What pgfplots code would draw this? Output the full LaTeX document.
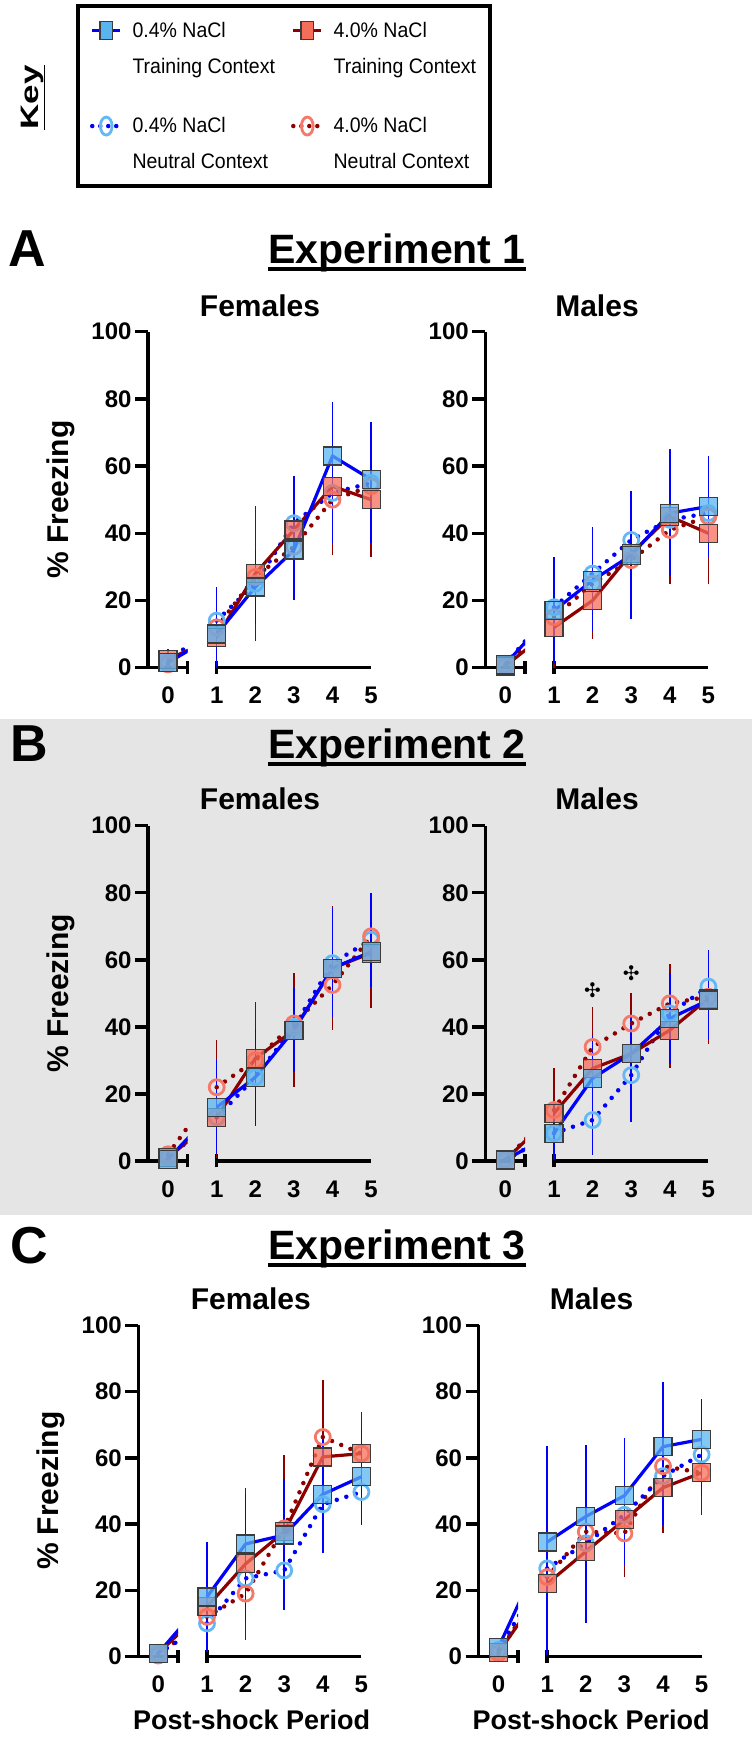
\documentclass[border=0pt]{standalone}
\usepackage{fontspec}
\setmainfont{Liberation Sans}
\newfontfamily\djv{DejaVu Sans}
\newfontfamily\legfont[FakeStretch=0.93]{Liberation Sans}
\usepackage{graphicx}
\usepackage{pgfplots}
\pgfplotsset{compat=1.18}
\usepackage{pgfplotstable}

\definecolor{lblue}{RGB}{90,180,240}
\definecolor{salm}{RGB}{245,110,90}
\definecolor{cblue}{RGB}{100,185,245}
\definecolor{csalm}{RGB}{245,120,105}
\definecolor{dred}{RGB}{140,0,0}
\definecolor{bblue}{RGB}{0,0,255}
\definecolor{mgray}{RGB}{60,60,60}
\definecolor{bggray}{RGB}{229,229,229}

% columns: period, blue square (0.4% training) +err, red square (4.0% training) +err,
% blue circle (0.4% neutral) +err, red circle (4.0% neutral) +err
\pgfplotstableread{
p bs bse rs rse bc bce rc rce
0 1.5 1.5 2.5 3 1.5 1 1 1
1 10 14 9 8 14 9 12 7
2 24 11 28 20 25 9 27 15
3 35 15 41 12 43 14 36 10
4 63 16 54 20.5 52 15 50 12
5 56 16 50 17 55 18 54 12
}\tAF
\pgfplotstableread{
p bs bse rs rse bc bce rc rce
0 1 1 0.5 0.5 1 1 0.5 0.5
1 17 16 12 12 18 10 15 9
2 26 15 20 11.6 28 14 25 10
3 33.5 19 34 14 38 12 32 12
4 46 18.8 45 20 44 14 41 13
5 48 15 40 15 46 12 45 12
}\tAM
\pgfplotstableread{
p bs bse rs rse bc bce rc rce
0 0.5 0.5 1 1 1 1 2 1.5
1 16 14 13 12 13 10 22 14
2 25 14.5 30.6 16.7 25 10 30 12
3 39 12.5 39 17 40 10 41 12
4 57.5 14 57.5 18.5 59 16.5 52.5 12
5 62.4 10 62 16.5 66 14 67 12
}\tBF
\pgfplotstableread{
p bs bse rs rse bc bce rc rce
0 0.3 0.3 0.3 0.3 0.3 0.3 0.3 0.3
1 8.3 8 14.2 13.4 8.3 6 15.2 9
2 24.7 13 27.6 14 12.2 10.4 34 12
3 32 11.5 32 12 25.6 13.9 41 9
4 42.5 13.5 39 11.4 44 10 47 11.7
5 48 12 48.5 13.5 52 11 49 10
}\tBM
\pgfplotstableread{
p bs bse rs rse bc bce rc rce
0 1 1 1 1 1 1 0.3 0.3
1 18 16.5 15 10 10 8 12 8
2 34 15 28 23 23.6 13 19 10
3 36.7 17 37.7 23.3 26 12 38.7 10
4 49 17.6 60.3 20 46 12 66.3 17.3
5 54.3 14.5 61.3 12.7 49.7 10 61.3 10
}\tCF
\pgfplotstableread{
p bs bse rs rse bc bce rc rce
0 2.8 2 1.3 1 2 1.5 1 1
1 34.6 29 22 19 26.6 26 24 15
2 42.3 21.5 31.7 21.7 34.2 24 37.7 15
3 48.6 17.4 41.3 17.3 42.8 15.2 37.2 12
4 63.4 19.6 51 13.8 54.5 14.7 57.5 12
5 65.6 12.1 55.5 12.7 61 12.6 55.5 10
}\tCM

\newcommand\tickfont{\bfseries\fontsize{24}{28}\selectfont}
\newcommand\titlefont{\bfseries\fontsize{30}{34}\selectfont}
\newcommand\expfont{\bfseries\fontsize{41}{46}\selectfont}
\newcommand\letfont{\bfseries\fontsize{52}{56}\selectfont}
\newcommand\xlabfont{\bfseries\fontsize{27}{30}\selectfont}

\pgfplotsset{
  common/.style={ymin=0, ymax=100, anchor=south west,
    axis line style={-, line width=3.5pt, black},
    tick style={line width=3.5pt, black},
    major tick length=13pt,
    tick label style={font=\tickfont},
    /pgf/number format/assume math mode=true,
    xticklabel style={yshift=-16pt}},
  lax/.style={common, x=48.7pt, xmin=-0.4107, xmax=0.4045,
    axis x line*=bottom, axis y line*=left,
    ytick={0,20,...,100}, ytick align=outside,
    xtick={0.4045}, xticklabels={}, xtick align=center,
    extra x ticks={0}, extra x tick labels={0},
    extra x tick style={major tick length=0pt}},
  rax/.style={common, x=38.6pt, xmin=1, xmax=5, clip=false,
    axis x line*=bottom, axis y line=none, ytick=\empty,
    xtick={1}, xticklabels={}, xtick align=center,
    extra x ticks={1,2,3,4,5}, extra x tick labels={1,2,3,4,5},
    extra x tick style={major tick length=0pt},
    restrict x to domain=0.5:5.5},
  bsq/.style={only marks, mark=square*, mark size=9pt,
    mark options={fill=lblue, fill opacity=0.75, draw=mgray, line width=1.2pt}},
  rsq/.style={only marks, mark=square*, mark size=9pt,
    mark options={fill=salm, fill opacity=0.75, draw=mgray, line width=1.2pt}},
  bci/.style={only marks, mark=o, mark size=7.5pt, mark options={draw=cblue, line width=2.8pt}},
  rci/.style={only marks, mark=o, mark size=7.5pt, mark options={draw=csalm, line width=2.8pt}},
  berr/.style={draw=none, mark=none, error bars/.cd, y dir=both, y explicit, error mark=none,
    error bar style={draw=bblue, line width=1.5pt, solid}},
  rerr/.style={draw=none, mark=none, error bars/.cd, y dir=both, y explicit, error mark=none,
    error bar style={draw=dred, line width=1.5pt, solid}},
  bsol/.style={bblue, line width=3.2pt, mark=none, line join=round},
  rsol/.style={dred, line width=3.2pt, mark=none, line join=round},
  bdot/.style={bblue, line width=4.5pt, mark=none, line cap=round, dash pattern=on 0pt off 10pt},
  rdot/.style={dred, line width=4.5pt, mark=none, line cap=round, dash pattern=on 0pt off 10pt},
}

\newcommand\errs[4]{\addplot[#1] table[x=p, y=#2, y error plus=#3,
  y error minus expr={min(\thisrow{#3},\thisrow{#2})}] {#4};}

\newcommand\panel[5]{%
\begin{axis}[lax, at={(#1pt,#2pt)}, y=#3pt]
  \addplot[bci, restrict x to domain=-0.5:0.5] table[x=p,y=bc] {#4};
  \addplot[rci, restrict x to domain=-0.5:0.5] table[x=p,y=rc] {#4};
  \addplot[rsq, restrict x to domain=-0.5:0.5] table[x=p,y=rs] {#4};
  \addplot[bsq, restrict x to domain=-0.5:0.5] table[x=p,y=bs] {#4};
  \errs{restrict x to domain=-0.5:0.5, rerr}{rs}{rse}{#4}
  \errs{restrict x to domain=-0.5:0.5, rerr}{rc}{rce}{#4}
  \errs{restrict x to domain=-0.5:0.5, berr}{bs}{bse}{#4}
  \errs{restrict x to domain=-0.5:0.5, berr}{bc}{bce}{#4}
  \addplot[rdot] table[x=p,y=rc] {#4};
  \addplot[bdot] table[x=p,y=bc] {#4};
  \addplot[rsol] table[x=p,y=rs] {#4};
  \addplot[bsol] table[x=p,y=bs] {#4};
\end{axis}
\begin{axis}[rax, at={(#1pt+68.7pt,#2pt)}, y=#3pt]
  \addplot[bci] table[x=p,y=bc] {#4};
  \addplot[rci] table[x=p,y=rc] {#4};
  \addplot[rsq] table[x=p,y=rs] {#4};
  \addplot[bsq] table[x=p,y=bs] {#4};
  \errs{rerr}{rs}{rse}{#4}
  \errs{rerr}{rc}{rce}{#4}
  \errs{berr}{bs}{bse}{#4}
  \errs{berr}{bc}{bce}{#4}
  \addplot[rdot] table[x=p,y=rc] {#4};
  \addplot[bdot] table[x=p,y=bc] {#4};
  \addplot[rsol] table[x=p,y=rs] {#4};
  \addplot[bsol] table[x=p,y=bs] {#4};
  #5
\end{axis}}

\begin{document}
\begin{tikzpicture}[x=1pt,y=1pt]
\fill[bggray] (0,525) rectangle (752,1020.5);

% ---------- Key ----------
\node[rotate=90, inner sep=0, font=\bfseries\fontsize{35}{35}\selectfont] at (33,1642.5)
  {\scalebox{1}[0.72]{\underline{Key}}};
\begin{axis}[hide axis, scale only axis, width=50pt, height=50pt,
  xmin=0, xmax=1, ymin=0, ymax=1,
  at={(76pt,1736pt)}, anchor=north west,
  legend columns=2, legend cell align=left,
  legend image code/.code={\draw[mark repeat=2,mark phase=2,#1]
     plot coordinates {(0pt,18pt) (14pt,18pt) (28pt,18pt)};},
  legend style={at={(0,1)}, anchor=north west, draw=black, line width=4pt, fill=white,
     font=\legfont\fontsize{21}{36}\selectfont, cells={align=left},
     inner xsep=12pt, inner ysep=14pt, row sep=39pt,
     /tikz/every odd column/.append style={column sep=8pt},
     /tikz/every even column/.append style={column sep=14pt}},
]
\addlegendimage{bblue, line width=3.5pt, mark=square*, mark size=9pt,
   mark options={solid, fill=lblue, draw=mgray, line width=1.2pt, xscale=0.7}}
\addlegendentry{0.4\% NaCl\\Training Context}
\addlegendimage{dred, line width=3.5pt, mark=square*, mark size=9pt,
   mark options={solid, fill=salm, draw=mgray, line width=1.2pt, xscale=0.7}}
\addlegendentry{4.0\% NaCl\\Training Context}
\addlegendimage{bblue, line width=4.5pt, line cap=round, dash pattern=on 0pt off 8pt,
   mark=o, mark size=9pt, mark options={solid, draw=cblue, line width=2.8pt, xscale=0.65}}
\addlegendentry{0.4\% NaCl\\Neutral Context}
\addlegendimage{dred, line width=4.5pt, line cap=round, dash pattern=on 0pt off 8pt,
   mark=o, mark size=9pt, mark options={solid, draw=csalm, line width=2.8pt, xscale=0.65}}
\addlegendentry{4.0\% NaCl\\Neutral Context}
\end{axis}

% ---------- Row A ----------
\node[anchor=base west, inner sep=0, font=\letfont] at (8,1473.3) {A};
\node[anchor=base, inner sep=0, font=\expfont] (e1) at (397,1476.7) {Experiment 1};
\draw[line width=4pt] ([yshift=-5.3pt]e1.base west) -- ([yshift=-5.3pt]e1.base east);
\node[anchor=base, inner sep=0, font=\titlefont] at (260,1423.3) {Females};
\node[anchor=base, inner sep=0, font=\titlefont] at (597,1423.3) {Males};
\node[rotate=90, anchor=base, inner sep=0, font=\titlefont] at (68,1240.3) {\% Freezing};
\panel{148}{1072.3}{3.36}{\tAF}{}
\panel{485.3}{1072.3}{3.36}{\tAM}{}

% ---------- Row B ----------
\node[anchor=base west, inner sep=0, font=\letfont] at (10,978.3) {B};
\node[anchor=base, inner sep=0, font=\expfont] (e2) at (397,981.7) {Experiment 2};
\draw[line width=4pt] ([yshift=-5.3pt]e2.base west) -- ([yshift=-5.3pt]e2.base east);
\node[anchor=base, inner sep=0, font=\titlefont] at (260,930) {Females};
\node[anchor=base, inner sep=0, font=\titlefont] at (597,930) {Males};
\node[rotate=90, anchor=base, inner sep=0, font=\titlefont] at (68,746.6) {\% Freezing};
\panel{148}{579}{3.353}{\tBF}{}
\panel{485.3}{579}{3.353}{\tBM}{%
  \node[font=\djv\fontsize{20}{20}\selectfont] at (axis cs:2,51) {✣};
  \node[font=\djv\fontsize{20}{20}\selectfont] at (axis cs:3,56) {✣};}

% ---------- Row C ----------
\node[anchor=base west, inner sep=0, font=\letfont] at (10,476.7) {C};
\node[anchor=base, inner sep=0, font=\expfont] (e3) at (397,480) {Experiment 3};
\draw[line width=4pt] ([yshift=-5.3pt]e3.base west) -- ([yshift=-5.3pt]e3.base east);
\node[anchor=base, inner sep=0, font=\titlefont] at (250.8,430) {Females};
\node[anchor=base, inner sep=0, font=\titlefont] at (591.5,430) {Males};
\node[rotate=90, anchor=base, inner sep=0, font=\titlefont] at (58,249.2) {\% Freezing};
\panel{138.3}{83.5}{3.31}{\tCF}{}
\panel{478.5}{83.5}{3.31}{\tCM}{}
\node[anchor=base, inner sep=0, font=\xlabfont] at (251.7,10) {Post-shock Period};
\node[anchor=base, inner sep=0, font=\xlabfont] at (591.2,10) {Post-shock Period};
\pgfresetboundingbox
\path (0,0) rectangle (754,1740);
\end{tikzpicture}
\end{document}
